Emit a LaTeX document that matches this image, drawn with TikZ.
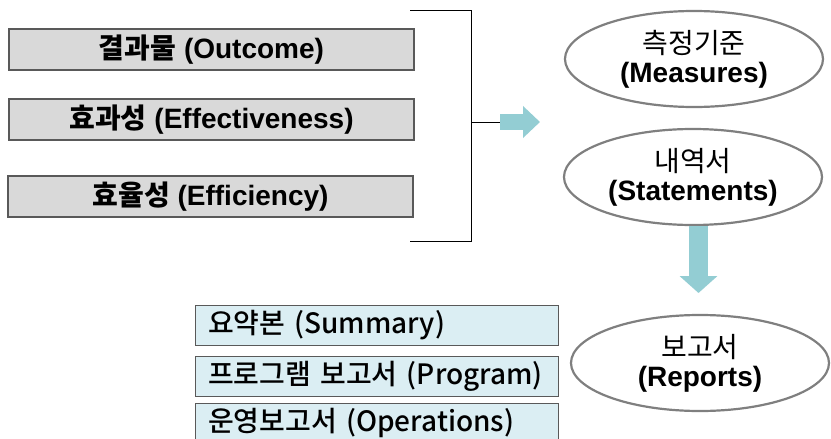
\documentclass[tikz,border=0pt]{standalone}
\usepackage{fontspec}
\setmainfont{Liberation Sans}
\newfontfamily\kr{Noto Sans CJK KR}
\newfontfamily\krm{Noto Sans CJK KR Medium}
\usetikzlibrary{shapes.geometric,arrows.meta,positioning}
\definecolor{boxgray}{HTML}{D9D9D9}
\definecolor{edgegray}{HTML}{595959}
\definecolor{ringgray}{HTML}{7F7F7F}
\definecolor{arrowteal}{HTML}{93CDD3}
\definecolor{paleteal}{HTML}{DBEEF3}
\begin{document}
\begin{tikzpicture}[x=1pt, y=-1pt,
  every node/.style={font=\fontsize{28}{29}\selectfont},
  outbox/.style={draw=edgegray, fill=boxgray, line width=1.2pt, minimum width=405pt, minimum height=41pt, inner sep=0pt},
  repbox/.style={draw=edgegray, fill=paleteal, line width=1pt, minimum width=363pt, minimum height=40pt,
    inner xsep=13pt, inner ysep=0pt, text width=337pt, align=left, font=\krm\fontsize{28}{30}\selectfont},
  ell/.style={ellipse, draw=ringgray, line width=2.2pt, minimum width=258pt, minimum height=96pt, inner sep=0pt, align=center},
  fat/.style={draw=arrowteal, line width=#1, -{Triangle[length=17pt, width=2*#1-1pt]}}]
  \useasboundingbox (0,0) rectangle (831,439);
  % the three results on the left
  \node[outbox] (outcome) at (211.5,49.5) {\bfseries{\kr 결과물} (Outcome)};
  \node[outbox] (effect) at (211.5,119.5) {\bfseries{\kr 효과성} (Effectiveness)};
  \node[outbox] (effic) at (210.5,196.5) {\bfseries{\kr 효율성} (Efficiency)};
  % bracket and arrow towards the ellipses
  \coordinate (btop) at (471,10); \coordinate (bbot) at (471,241); \coordinate (bmid) at (471,122);
  \draw[line width=1pt] ([xshift=-61pt]btop) -- (btop) -- (bbot) -- ([xshift=-61pt]bbot);
  \coordinate (tail) at (500,122); \coordinate (tip) at (540,122);
  \draw[line width=1pt] (bmid) -- (tail);
  \draw[fat=16pt] (tail) -- (tip);
  \node[ell] (measures) at (694,59) {{\kr 측정기준}\\\bfseries(Measures)};
  \node[ell] (state) at (693,177) {{\kr 내역서}\\\bfseries(Statements)};
  \node[ell] (reports) at (700,363) {{\kr 보고서}\\\bfseries(Reports)};
  \coordinate (dtail) at (698.5,226); \coordinate (dtip) at (698.5,293);
  \draw[fat=19pt] (dtail) -- (dtip);
  % kinds of report
  \node[repbox] (summary) at (376.5,325) {요약본 (Summary)};
  \node[repbox] (program) at (376.5,376) {프로그램 보고서 (Program)};
  \node[repbox] (ops) at (376.5,423) {운영보고서 (Operations)};
\end{tikzpicture}
\end{document}
